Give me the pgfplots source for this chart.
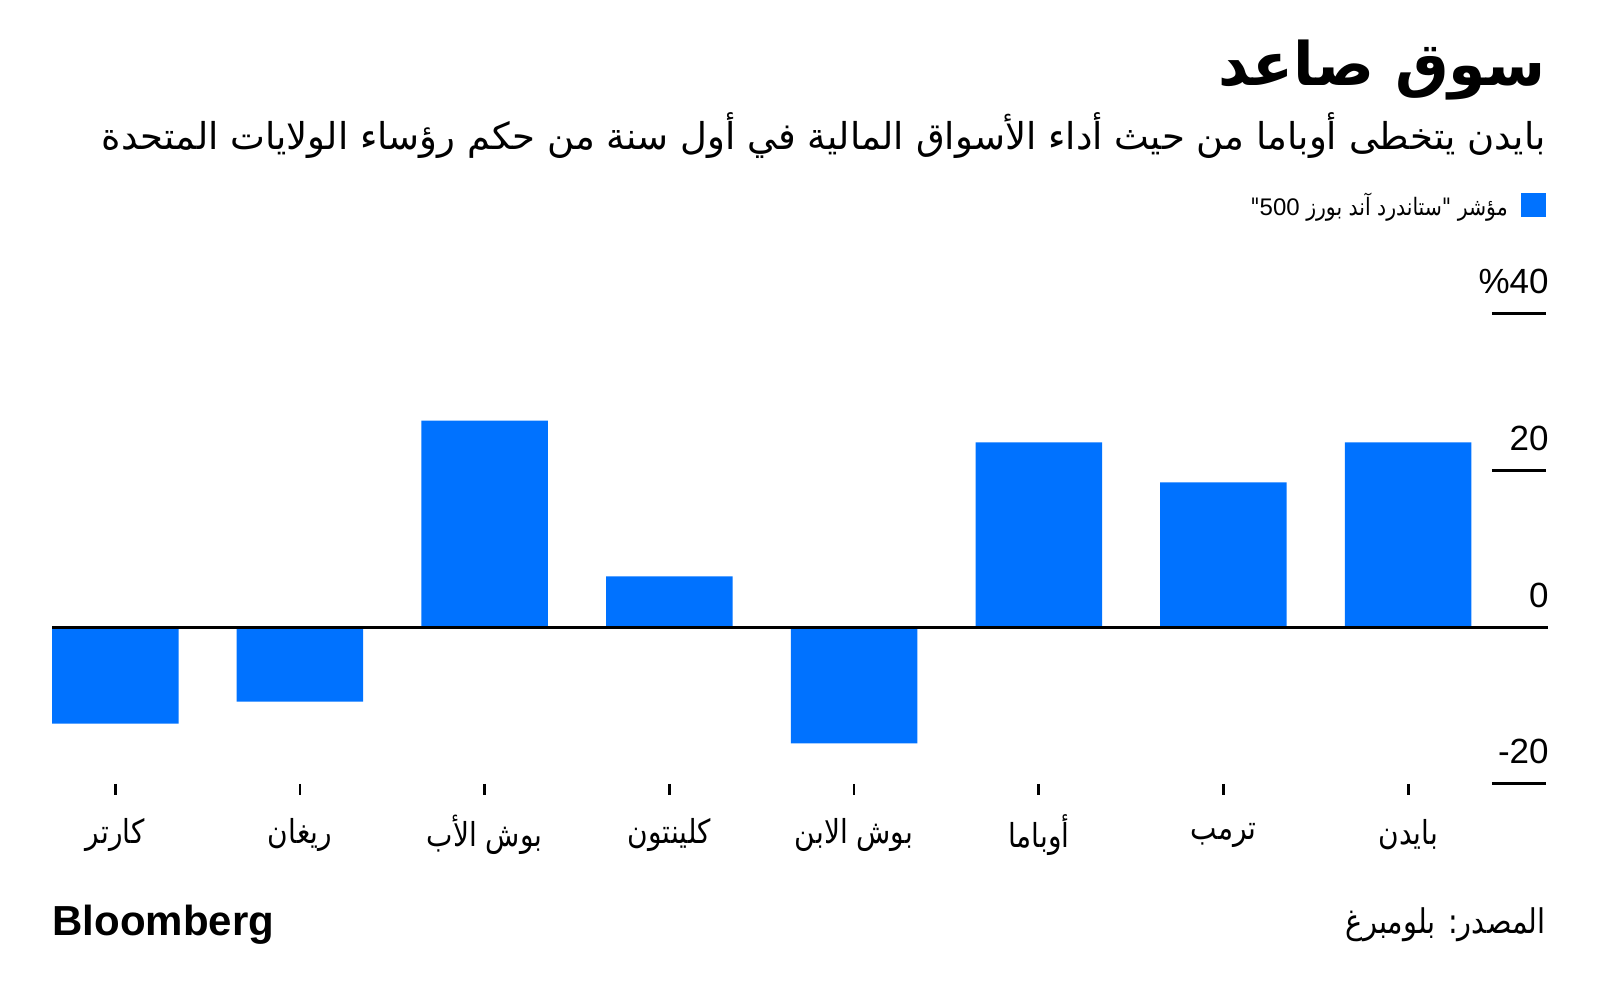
\documentclass[border=0pt]{standalone}
\usepackage{fontspec}
\usepackage{pgfplots}
\pgfplotsset{compat=1.18}
\TeXXeTstate=1
\setmainfont{Liberation Sans}
\newfontfamily\latinfont{Liberation Sans}
\newfontfamily\arabicfont[Script=Arabic]{DejaVu Sans}
\newfontfamily\arabicfontc[Script=Arabic,FakeStretch=0.85]{DejaVu Sans}
\definecolor{barblue}{RGB}{0,114,255}
\newcommand{\AR}[1]{{\arabicfontc\beginR #1\endR}}
\begin{document}
\begin{tikzpicture}[x=1pt,y=1pt]
\path[use as bounding box] (0,0) rectangle (800,500);
% title
\node[anchor=east, inner sep=0pt] at (773,465)
  {\fontsize{30}{36}\selectfont\arabicfont\bfseries\beginR سوق صاعد\endR};
% subtitle
\node[anchor=east, inner sep=0pt] at (773,432)
  {\fontsize{18.5}{22}\selectfont\arabicfont\beginR بايدن يتخطى أوباما من حيث أداء الأسواق المالية في أول سنة من حكم رؤساء الولايات المتحدة\endR};
\begin{axis}[
  at={(26pt,108pt)}, anchor=south west,
  scale only axis, width=748pt, height=235pt,
  xmin=-0.3425, xmax=7.757, ymin=-20, ymax=40,
  axis line style={draw=none},
  clip=false,
  tick align=inside,
  xtick={0,1,2,3,4,5,6,7},
  xticklabels={\AR{كارتر},\AR{ريغان},\AR{بوش الأب},\AR{كلينتون},\AR{بوش الابن},\AR{أوباما},\AR{ترمب},\AR{بايدن}},
  xtick style={draw=none},
  xticklabel style={anchor=center, inner sep=0pt, yshift=-25.5pt, font=\fontsize{16.5}{20}\selectfont},
  ytick={-20,0,20,40},
  yticklabels={-20,0,20,\%40},
  ytick pos=right,
  ytick style={draw=none},
  yticklabel style={anchor=base east, inner sep=0pt, xshift=0.5pt, yshift=10pt, font=\latinfont\fontsize{17.5}{20}\selectfont},
  legend plot pos=right,
  legend style={at={(0.9987,1.2745)}, anchor=north east, draw=none, fill=none,
    inner sep=0pt, column sep=6.5pt, nodes={inner sep=0pt},
    font=\fontsize{12}{15}\selectfont},
  legend image code/.code={\path[draw=none,fill=none] (0pt,-10pt) rectangle (12.5pt,10pt);\fill[barblue] (0pt,-6pt) rectangle (12.5pt,6pt);},
]
\addplot[ybar, bar width=0.685, fill=barblue, draw=none]
  coordinates {(0,-12.3) (1,-9.5) (2,26.4) (3,6.5) (4,-14.8) (5,23.6) (6,18.5) (7,23.6)};
\addlegendentry{\AR{مؤشر "ستاندرد آند بورز \beginL{\latinfont 500}\endL"}}
\draw[line width=1.5pt] (axis cs:-0.3425,0) -- (axis cs:7.757,0);
\draw[line width=1.5pt] (axis cs:7.453,-20) -- (axis cs:7.746,-20);
\draw[line width=1.5pt] (axis cs:7.453,0) -- (axis cs:7.746,0);
\draw[line width=1.5pt] (axis cs:7.453,20) -- (axis cs:7.746,20);
\draw[line width=1.5pt] (axis cs:7.453,40) -- (axis cs:7.746,40);
\draw[line width=1.4pt] (axis cs:0,-20) -- ++(0pt,-5.5pt);
\draw[line width=1.4pt] (axis cs:1,-20) -- ++(0pt,-5.5pt);
\draw[line width=1.4pt] (axis cs:2,-20) -- ++(0pt,-5.5pt);
\draw[line width=1.4pt] (axis cs:3,-20) -- ++(0pt,-5.5pt);
\draw[line width=1.4pt] (axis cs:4,-20) -- ++(0pt,-5.5pt);
\draw[line width=1.4pt] (axis cs:5,-20) -- ++(0pt,-5.5pt);
\draw[line width=1.4pt] (axis cs:6,-20) -- ++(0pt,-5.5pt);
\draw[line width=1.4pt] (axis cs:7,-20) -- ++(0pt,-5.5pt);
\end{axis}
% footer
\node[anchor=west, inner sep=0pt] at (26,37.5)
  {\latinfont\bfseries\fontsize{21}{24}\selectfont Bloomberg};
\node[anchor=east, inner sep=0pt] at (773,37.5)
  {\fontsize{17}{20}\selectfont\AR{المصدر: بلومبرغ}};
\end{tikzpicture}
\end{document}
